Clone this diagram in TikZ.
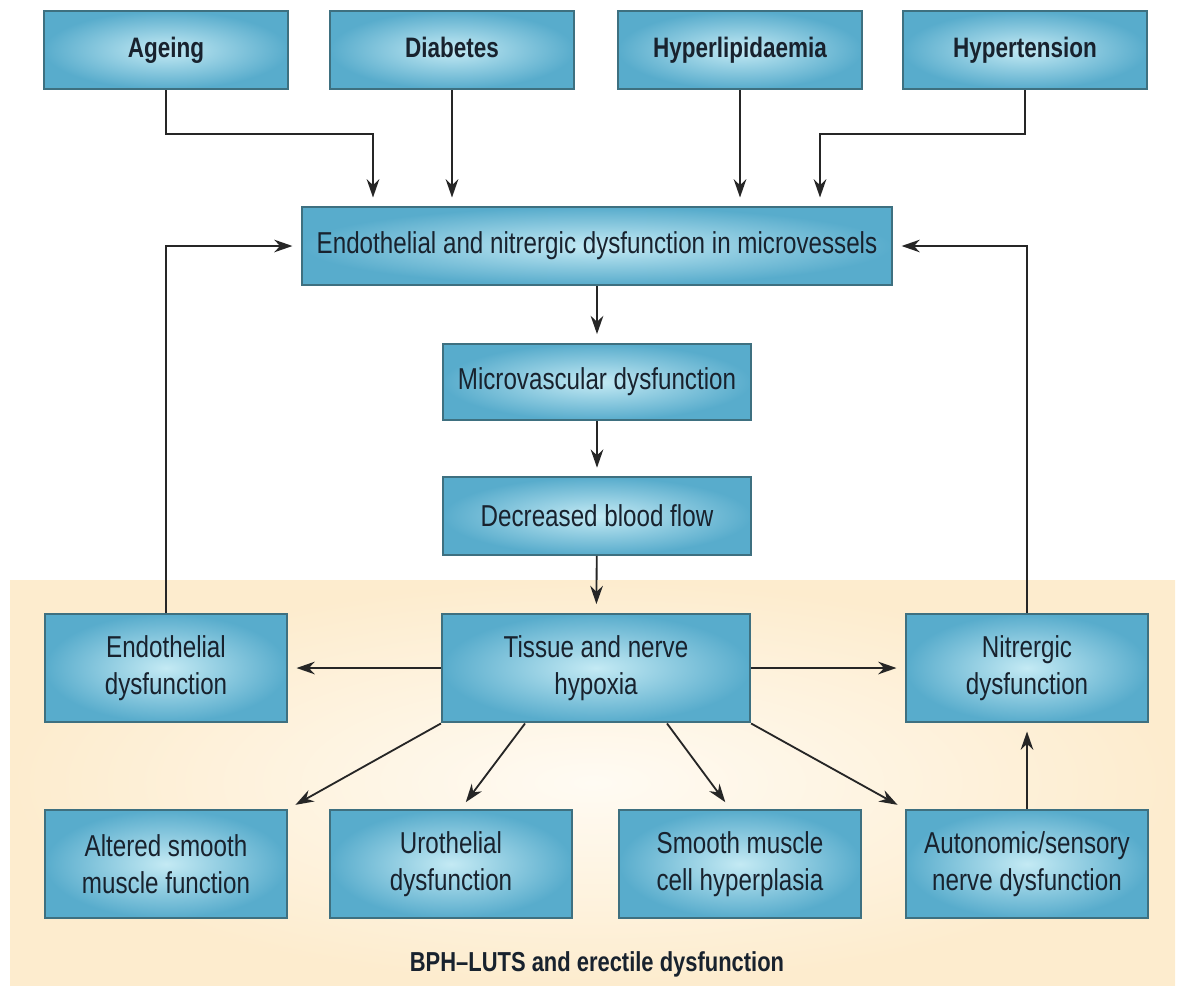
\documentclass[tikz,border=0pt]{standalone}
\usepackage{fontspec}
\setmainfont{Liberation Sans}[FakeStretch=0.8]
\usetikzlibrary{arrows.meta}
\definecolor{boxin}{RGB}{196,234,244}
\definecolor{boxout}{RGB}{88,172,204}
\definecolor{boxline}{RGB}{62,112,128}
\definecolor{boxtext}{RGB}{24,34,46}
\definecolor{peachin}{RGB}{255,251,243}
\definecolor{peachout}{RGB}{253,236,206}
\tikzset{box/.style={draw=boxline,line width=1.5pt,inner color=boxin,outer color=boxout,text=boxtext,align=center,inner sep=0pt,font=\fontsize{21.5}{26}\selectfont},
  top/.style={minimum width=6.1cm,minimum height=1.95cm,text height=2.1ex,text depth=0ex,font=\bfseries\fontsize{20}{24}\selectfont},
  small/.style={minimum width=6.05cm,minimum height=2.7cm},
  arr/.style={->,draw=black!85,line width=1.3pt,shorten >=6pt}}

\begin{document}
\begin{tikzpicture}[x=0.025cm,y=-0.025cm,>={Stealth[length=13pt,width=9pt]}]
        \useasboundingbox (0,0) rectangle (1184,989);
        \fill[inner color=peachin,outer color=peachout] (10,580) rectangle (1175,985);

        \node[box,top] (ageing) at (166,50) {Ageing};
        \node[box,top] (diabetes) at (452,50) {Diabetes};
        \node[box,top] (hyperlip) at (740,50) {Hyperlipidaemia};
        \node[box,top] (hypertens) at (1025,50) {Hypertension};

        \node[box,minimum width=14.75cm,minimum height=1.95cm] (microves) at (597,246) {Endothelial and nitrergic dysfunction in microvessels};
        \node[box,minimum width=7.7cm,minimum height=1.92cm] (microvasc) at (597,382) {Microvascular dysfunction};
        \node[box,minimum width=7.7cm,minimum height=1.94cm] (bloodflow) at (597,516) {Decreased blood flow};

        \node[box,minimum width=7.7cm,minimum height=2.72cm] (hypoxia) at (596,668) {Tissue and nerve\\hypoxia};
        \node[box,small] (endodys) at (166,668) {Endothelial\\dysfunction};
        \node[box,small] (nitrdys) at (1027,668) {Nitrergic\\dysfunction};

        \node[box,small] (altered) at (166,864) {Altered smooth\\muscle function};
        \node[box,small] (uroth) at (451,864) {Urothelial\\dysfunction};
        \node[box,small] (smhyper) at (740,864) {Smooth muscle\\cell hyperplasia};
        \node[box,small] (autonom) at (1027,864) {Autonomic/sensory\\nerve dysfunction};

        \node[text=boxtext,font=\bfseries\fontsize{19.5}{23}\selectfont] (bph) at (597,964) {BPH--LUTS and erectile dysfunction};

        \coordinate (agbend) at (373,134);
        \coordinate (htbend) at (820,134);

        \draw [arr] (ageing.south) |- (agbend) -- (agbend |- microves.north);
        \draw [arr] (diabetes.south) -- (diabetes.south |- microves.north);
        \draw [arr] (hyperlip.south) -- (hyperlip.south |- microves.north);
        \draw [arr] (hypertens.south) |- (htbend) -- (htbend |- microves.north);

        \draw [arr] (endodys.north) |- (microves.west);
        \draw [arr] (nitrdys.north) |- (microves.east);

        \draw [arr] (microves) -- (microvasc);
        \draw [arr] (microvasc) -- (bloodflow);
        \draw [arr] (bloodflow) -- (hypoxia);

        \draw [arr] (hypoxia) -- (endodys);
        \draw [arr] (hypoxia) -- (nitrdys);
        \draw [arr] (hypoxia.south west) -- (altered.north east);
        \draw [arr] (hypoxia.218) -- (uroth.80);
        \draw [arr] (hypoxia.322) -- (smhyper.100);
        \draw [arr] (hypoxia.south east) -- (autonom.north west);
        \draw [arr] (autonom) -- (nitrdys);
    \end{tikzpicture}
\end{document}
